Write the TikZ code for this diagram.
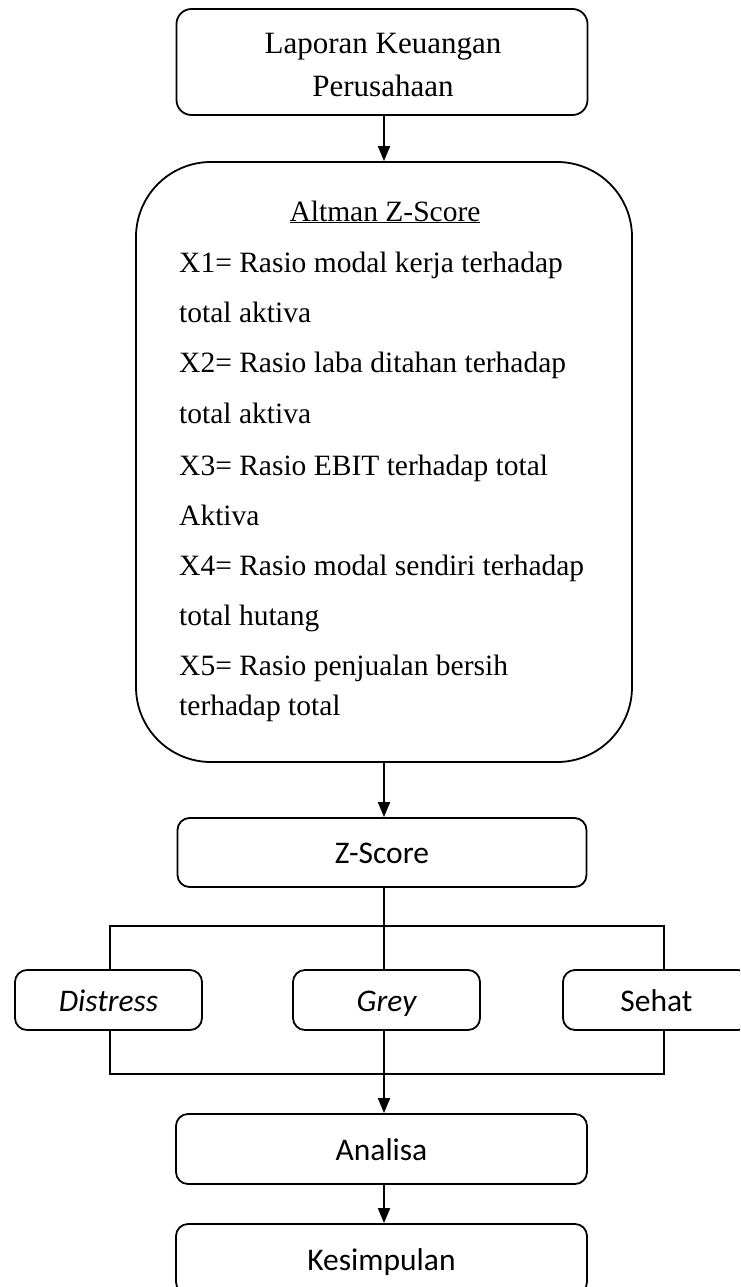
\documentclass[tikz,border=0pt]{standalone}
\usepackage{fontspec}
\setmainfont{Liberation Serif}
\newfontfamily\calibrifont{Carlito}
\usetikzlibrary{arrows.meta}
\begin{document}
\begin{tikzpicture}[x=1pt,y=-1pt,
  ln/.style={line width=1.8pt},
  arr/.style={ln,-{Triangle[length=15pt,width=12pt]}},
  box/.style={draw,ln,rectangle,rounded corners=12pt,inner sep=0pt,align=center},
  sbox/.style={box,font=\calibrifont\fontsize{31.5}{38}\selectfont,text height=22pt,text depth=0pt},
  ser/.style={inner sep=0pt,font=\fontsize{29.5}{36}\selectfont},
  txt/.style={ser,anchor=base west}]
\useasboundingbox (0,0) rectangle (740,1287);
\clip (0,0) rectangle (740,1287);

% top box
\node[box,minimum width=411pt,minimum height=106pt,rounded corners=15pt] (top) at (382,62) {};
\node[ser,anchor=base,font=\fontsize{31}{40}\selectfont] (tl1) at (383,54) {Laporan Keuangan};
\node[ser,anchor=base,font=\fontsize{31}{40}\selectfont] (tl2) at (383,97) {Perusahaan};

% big box
\node[box,minimum width=496pt,minimum height=600pt,rounded corners=75pt] (alt) at (384,462) {};
\node[ser,anchor=base] (t0) at (385,221) {\underline{Altman Z-Score}};
\foreach \i/\yy/\t in {
  1/272/{X1= Rasio modal kerja terhadap},
  2/322/{total aktiva},
  3/372/{X2= Rasio laba ditahan terhadap},
  4/423/{total aktiva},
  5/475/{X3= Rasio EBIT terhadap total},
  6/525/{Aktiva},
  7/575/{X4= Rasio modal sendiri terhadap},
  8/625/{total hutang},
  9/675/{X5= Rasio penjualan bersih},
  10/715/{terhadap total}}
  \node[txt] (t\i) at (179,\yy) {\t};

% lower boxes
\node[sbox,minimum width=409pt,minimum height=69pt] (z) at (382,852.5) {Z-Score};
\node[sbox,minimum width=187pt,minimum height=60pt] (d) at (108.5,1000) {\itshape Distress};
\node[sbox,minimum width=187pt,minimum height=60pt] (g) at (386.5,1000) {\itshape Grey};
\node[sbox,minimum width=187pt,minimum height=60pt] (s) at (656.5,1000) {Sehat};
\node[sbox,minimum width=411pt,minimum height=70pt] (an) at (381.5,1149) {Analisa};
\node[sbox,minimum width=411pt,minimum height=70pt] (k) at (381.5,1259) {Kesimpulan};

% junction coordinates
\coordinate (jt) at (384,926);
\coordinate (jb) at (384,1074);
\coordinate (L) at (110,926);
\coordinate (R) at (664,926);

% connectors
\draw[arr] (top.south -| jt) -- (alt.north -| jt);
\draw[arr] (alt.south -| jt) -- (z.north -| jt);
\draw[ln] (z.south -| jt) -- (jt);
\draw[ln] (d.north -| L) |- (jt) -| (s.north -| R);
\draw[ln] (jt) -- (g.north -| jt);
\draw[ln] (d.south -| L) |- (jb) -| (s.south -| R);
\draw[arr] (g.south -| jt) -- (an.north -| jt);
\draw[arr] (an.south -| jt) -- (k.north -| jt);
\end{tikzpicture}
\end{document}
